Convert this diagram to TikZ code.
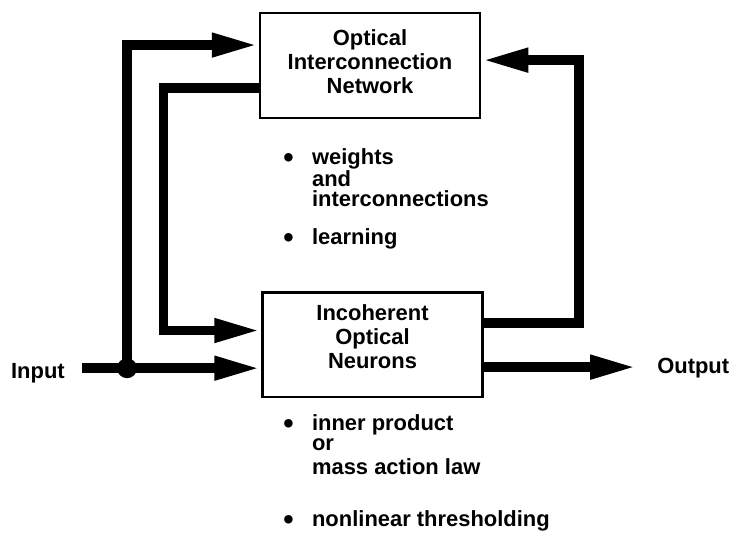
\documentclass[tikz,border=0pt]{standalone}
\usepackage{fontspec}
\setmainfont{Liberation Sans}
\usetikzlibrary{arrows.meta,calc}
\tikzstyle{block}=[draw,
                   line width=2pt,
                   minimum width=5.5cm,
                   minimum height=2.62cm,
                   align=center,
                   font=\bfseries\fontsize{15.6}{17}\selectfont]
\tikzstyle{beam}=[line width=7pt,
                  -{Triangle[length=1.17cm,width=0.55cm]}]
\tikzstyle{lbl}=[inner sep=0pt,
                 font=\bfseries\fontsize{15.6}{16.8}\selectfont]
\tikzstyle{notes}=[inner sep=0pt,
                   align=left,
                   font=\bfseries\fontsize{15.6}{14.2}\selectfont]
\newcommand{\bul}{\makebox[0.72cm][l]{\raisebox{-2.5pt}{\fontsize{21}{21}\selectfont\textbullet}}}
\newcommand{\ind}{\hspace*{0.72cm}}

\begin{document}
\begin{tikzpicture}[x=0.025cm,y=-0.025cm]
    \path[use as bounding box] (0,0) rectangle (740,542);
    \node[block, text depth=0.2cm] (network) at (370,65.5) {Optical\\Interconnection\\Network};
    \node[block, text depth=0.38cm] (neurons) at (372.5,344.5) {Incoherent\\Optical\\Neurons};
    \node[lbl, anchor=east] (input) at (65,373) {Input};
    \node[lbl, anchor=west] (output) at (657,368) {Output};
    \node[notes, anchor=north west] (netnotes) at (283,148) {\bul weights\\\ind and\\\ind interconnections\\[0.45cm]\bul learning};
    \node[notes, anchor=north west] (neunotes) at (283,414) {\bul inner product\\\ind or\\[0.1cm]\ind mass action law\\[0.8cm]\bul nonlinear thresholding};

    \coordinate (net-a) at ($(network.north west)!.31!(network.south west)$);
    \coordinate (net-b) at ($(network.north east)!.45!(network.south east)$);
    \coordinate (net-c) at ($(network.north west)!.71!(network.south west)$);
    \coordinate (neu-a) at ($(neurons.north east)!.30!(neurons.south east)$);
    \coordinate (neu-b) at ($(neurons.north west)!.37!(neurons.south west)$);
    \coordinate (neu-c) at ($(neurons.north east)!.71!(neurons.south east)$);
    \coordinate (neu-d) at ($(neurons.north west)!.72!(neurons.south west)$);
    \coordinate (split) at ($(neu-d)+(-134,0)$);

    \draw[beam] ($(input.east |- neu-d)+(17,0)$) -- (neu-d);
    \draw[beam] (split) |- (net-a);
    \fill (split) circle (10);
    \draw[beam] (net-c) -- ++(-95,0) |- (neu-b);
    \draw[beam] (neu-a) -- ++(95,0) |- (net-b);
    \draw[beam] (neu-c) -- ($(neu-c -| output.west)+(-20,0)$);
\end{tikzpicture}
\end{document}
